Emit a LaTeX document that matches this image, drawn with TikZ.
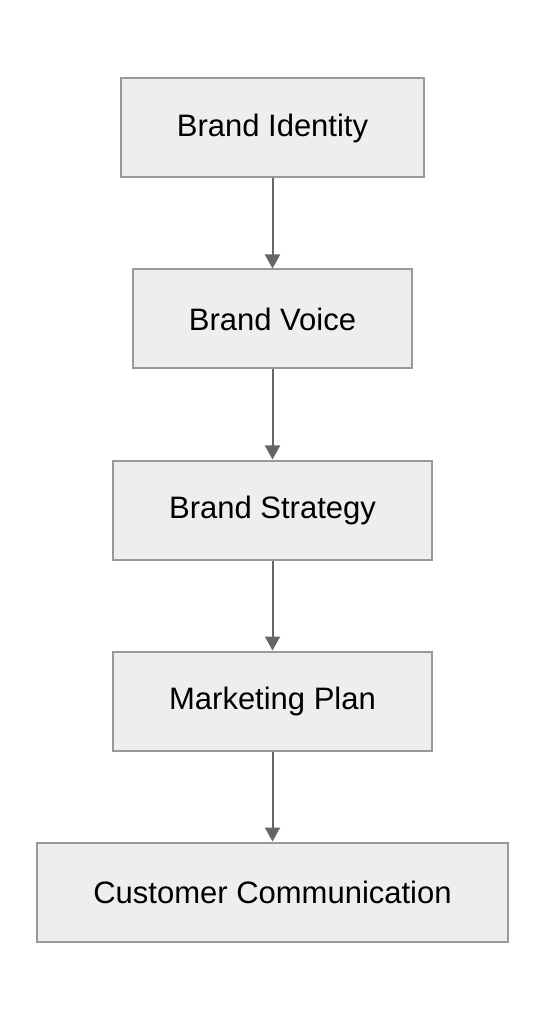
\documentclass[tikz,border=0pt]{standalone}
\usepackage{fontspec}
\setmainfont{Liberation Sans}
\usepackage{tikz}
\usetikzlibrary{positioning,arrows.meta}

\definecolor{boxfill}{HTML}{EEEEEE}
\definecolor{boxline}{HTML}{999999}
\definecolor{flowline}{HTML}{666666}

\begin{document}
\begin{tikzpicture}[x=0.5pt, y=-0.5pt, node distance=45pt,
    stage/.style={draw=boxline, line width=1pt, fill=boxfill,
      minimum height=49.5pt, inner xsep=28pt,
      font=\fontsize{15.5}{18}\selectfont},
    flow/.style={draw=flowline, line width=1pt,
      -{Triangle[length=7pt,width=7.5pt]}}]
  \useasboundingbox (0,0) rectangle (546,1020);
  \node[stage] (identity) at (272.5,128) {Brand Identity};
  \node[stage, below=of identity] (voice) {Brand Voice};
  \node[stage, below=of voice] (strategy) {Brand Strategy};
  \node[stage, below=of strategy] (plan) {Marketing Plan};
  \node[stage, below=of plan] (comm) {Customer Communication};
  \draw[flow] (identity) -- (voice);
  \draw[flow] (voice) -- (strategy);
  \draw[flow] (strategy) -- (plan);
  \draw[flow] (plan) -- (comm);
\end{tikzpicture}
\end{document}
